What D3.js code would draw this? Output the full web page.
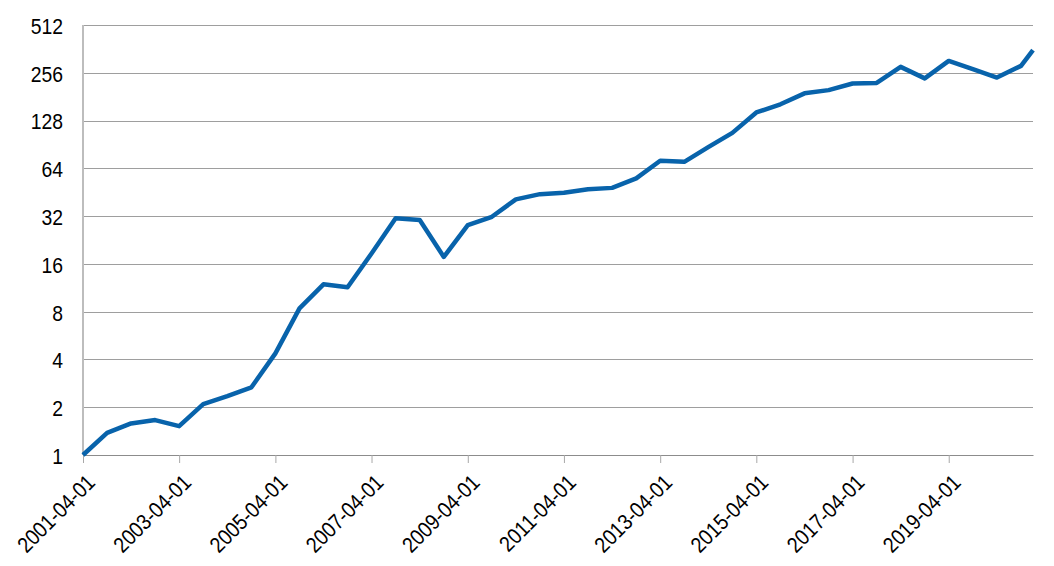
<!DOCTYPE html>
<html>
<head>
<meta charset="utf-8">
<script src="https://cdnjs.cloudflare.com/ajax/libs/d3/7.8.5/d3.min.js"></script>
<style>
body { margin: 0; background: #fff; }
svg { display: block; }
.axis text { font-family: "Liberation Sans", Arial, sans-serif; fill: #000; }
</style>
</head>
<body>
<script>
var parseDate = d3.timeParse("%Y-%m-%d");

// semi-annual observations
var dates = [
    "2001-04-01", "2001-10-01", "2002-04-01", "2002-10-01", "2003-04-01", "2003-10-01",
    "2004-04-01", "2004-10-01", "2005-04-01", "2005-10-01", "2006-04-01", "2006-10-01",
    "2007-04-01", "2007-10-01", "2008-04-01", "2008-10-01", "2009-04-01", "2009-10-01",
    "2010-04-01", "2010-10-01", "2011-04-01", "2011-10-01", "2012-04-01", "2012-10-01",
    "2013-04-01", "2013-10-01", "2014-04-01", "2014-10-01", "2015-04-01", "2015-10-01",
    "2016-04-01", "2016-10-01", "2017-04-01", "2017-10-01", "2018-04-01", "2018-10-01",
    "2019-04-01", "2019-10-01", "2020-04-01", "2020-10-01", "2020-12-31"
];

var values = [
    1.00, 1.38, 1.58, 1.66, 1.52, 2.09,
    2.35, 2.67, 4.37, 8.39, 11.9, 11.4,
    18.6, 31.0, 30.2, 17.7, 28.1, 31.7,
    40.8, 44.0, 44.9, 47.3, 48.2, 55.3,
    71.4, 70.3, 87.0, 107, 144, 162,
    190, 199, 219, 221, 279, 236,
    304, 270, 239, 283, 355
];

var yTicks = [1, 2, 4, 8, 16, 32, 64, 128, 256, 512];
var xTicks = ["2001-04-01", "2003-04-01", "2005-04-01", "2007-04-01", "2009-04-01",
    "2011-04-01", "2013-04-01", "2015-04-01", "2017-04-01", "2019-04-01"];

var data = dates.map(function(d, i) { return {date: parseDate(d), value: values[i]}; });

var W = 1054, H = 566;
var margin = {top: 25, right: 21, bottom: 111, left: 83},
    width = W - margin.left - margin.right,
    height = H - margin.top - margin.bottom;

// narrow look: regular sans squeezed horizontally
var squeeze = 0.88;

var x = d3.scaleTime()
    .domain([parseDate(dates[0]), parseDate(dates[dates.length - 1])])
    .range([0, width]);

var y = d3.scaleLog()
    .base(2)
    .domain([1, 512])
    .range([height, 0]);

var svg = d3.select("body").append("svg")
    .attr("width", W)
    .attr("height", H);

var g = svg.append("g")
    .attr("transform", "translate(" + margin.left + "," + margin.top + ")");

// gridlines
g.append("g")
    .selectAll("line")
    .data(yTicks.slice(1))
    .enter().append("line")
    .attr("x1", 0)
    .attr("x2", width)
    .attr("y1", function(d) { return Math.round(y(d)) + 0.5; })
    .attr("y2", function(d) { return Math.round(y(d)) + 0.5; })
    .attr("stroke", "#9e9e9e")
    .attr("stroke-width", 1);

// y axis
var yAxis = d3.axisLeft(y)
    .tickValues(yTicks)
    .tickFormat(d3.format("d"))
    .tickSize(0);

var yg = g.append("g")
    .attr("class", "axis")
    .call(yAxis);
yg.select(".domain").remove();
yg.selectAll("text")
    .style("font-size", "22px")
    .attr("x", 0)
    .attr("dy", "0.38em")
    .attr("transform", "translate(-20,0) scale(" + squeeze + ",1)");

g.append("line")
    .attr("x1", 0).attr("x2", 0)
    .attr("y1", 0).attr("y2", height)
    .attr("stroke", "#bdbdbd")
    .attr("stroke-width", 2);

// x axis
var xAxis = d3.axisBottom(x)
    .tickValues(xTicks.map(parseDate))
    .tickFormat(d3.timeFormat("%Y-%m-%d"))
    .tickSizeInner(8)
    .tickSizeOuter(0);

var xg = g.append("g")
    .attr("class", "axis")
    .attr("transform", "translate(0," + height + ")")
    .call(xAxis);
xg.select(".domain").attr("stroke", "#8c8c8c");
xg.selectAll(".tick line").attr("stroke", "#a8a8a8");
xg.selectAll("text")
    .style("font-size", "22px")
    .style("text-anchor", "end")
    .attr("x", 0)
    .attr("y", 0)
    .attr("dy", "0.7em")
    .attr("transform", "translate(2,18) rotate(-45) scale(" + squeeze + ",1)");

// series
var line = d3.line()
    .x(function(d) { return x(d.date); })
    .y(function(d) { return y(d.value); });

g.append("path")
    .datum(data)
    .attr("fill", "none")
    .attr("stroke", "#0863ab")
    .attr("stroke-width", 4.5)
    .attr("stroke-linejoin", "round")
    .attr("d", line);
</script>
</body>
</html>
